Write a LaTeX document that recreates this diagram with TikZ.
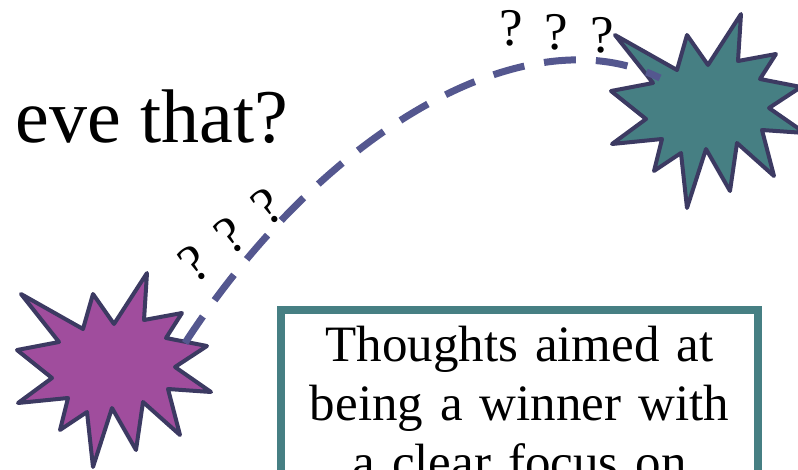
\documentclass[tikz,border=0pt]{standalone}
\usepackage{fontspec}
\setmainfont{Liberation Serif}
\definecolor{burstplum}{RGB}{160,77,157}
\definecolor{burstteal}{RGB}{70,127,131}
\definecolor{burstrim}{RGB}{60,58,98}
\definecolor{pathblue}{RGB}{84,87,143}
\tikzset{
  burst/.pic={
    \path[pic actions,draw=burstrim,line width=4pt,line join=round]
      (-91,-76) -- (-29,-41) -- (-19,-76) -- (2,-46) -- (35,-97) -- (32,-50)
      -- (70,-57) -- (54,-32) -- (95,-24) -- (63,-3) -- (99,22) -- (56,19)
      -- (68,65) -- (31,32) -- (24,80) -- (0,38) -- (-19,97) -- (-25,42)
      -- (-52,60) -- (-44,28) -- (-94,33) -- (-60,8) -- (-95,-20) -- (-53,-28)
      -- cycle;
  },
  query/.style={inner sep=0pt,font=\fontsize{53}{53}\selectfont}
}

\begin{document}
\begin{tikzpicture}[x=1pt,y=-1pt]
    \useasboundingbox (0,0) rectangle (798,469);
    \clip (0,0) rectangle (798,469);
    \node[anchor=base east,inner sep=0pt,font=\fontsize{76}{80}\selectfont] (title) at (288,142) {eve that?};
    \pic[fill=burstplum] (start) at (112,370) {burst};
    \pic[fill=burstteal] (goal) at (706,111) {burst};
    \coordinate (launch) at (185,343);
    \coordinate (landing) at (660,78);
    \draw[pathblue,line width=7pt,dash pattern=on 32pt off 20pt]
      (launch) .. controls (322,132) and (525,12) .. (landing);
    \node[query,rotate=35] (q1) at (194,264) {?};
    \node[query,rotate=35] (q2) at (230,236) {?};
    \node[query,rotate=35] (q3) at (267,207) {?};
    \node[query] (q4) at (511,28) {?};
    \node[query] (q5) at (556,32) {?};
    \node[query] (q6) at (602,35) {?};
    \node[draw=burstteal,line width=8pt,anchor=north,text width=457pt,inner xsep=10pt,
      inner ysep=16pt,align=center,font=\fontsize{51}{59}\selectfont] (thoughts)
      at (519.5,306) {Thoughts aimed at\\being a winner with\\a clear focus on};
\end{tikzpicture}
\end{document}
